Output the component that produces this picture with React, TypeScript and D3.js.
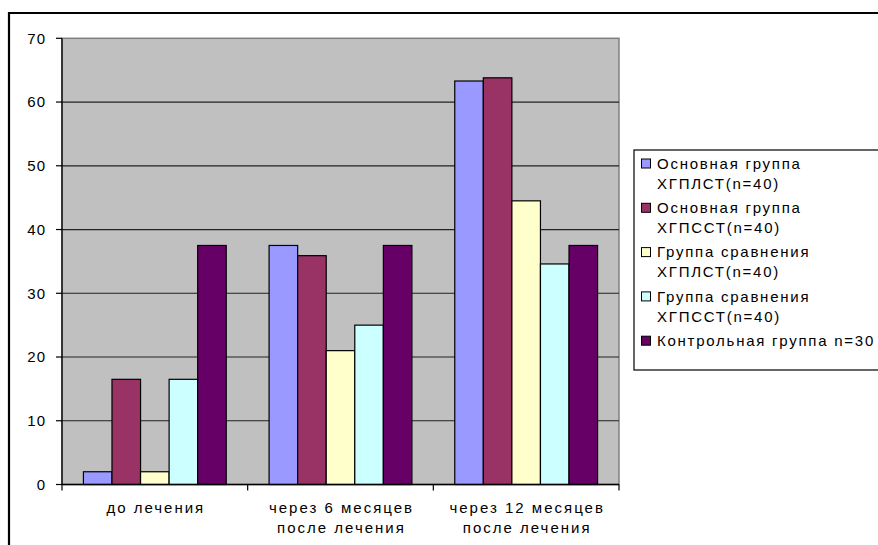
import React from "react";
import * as d3 from "d3";

const categories: string[][] = [
  ["до лечения"],
  ["через 6 месяцев", "после лечения"],
  ["через 12 месяцев", "после лечения"],
];
const seriesNames: string[][] = [
  ["Основная группа", "ХГПЛСТ(n=40)"],
  ["Основная группа", "ХГПССТ(n=40)"],
  ["Группа сравнения", "ХГПЛСТ(n=40)"],
  ["Группа сравнения", "ХГПССТ(n=40)"],
  ["Контрольная группа n=30"],
];
const seriesColors = ["#9999FF", "#993366", "#FFFFCC", "#CCFFFF", "#660066"];
const values: number[][] = [
  [2, 37.5, 63.3],
  [16.5, 35.9, 63.8],
  [2, 21, 44.5],
  [16.5, 25, 34.6],
  [37.5, 37.5, 37.5],
];
const yTicks = [0, 10, 20, 30, 40, 50, 60, 70];

const W = 878;
const H = 545;
const plot = { left: 62, top: 38.3, right: 619, bottom: 484.5 };
const font = "'Liberation Sans', Arial, sans-serif";

export default function App() {
  const y = d3.scaleLinear().domain([0, 70]).range([plot.bottom, plot.top]);
  const x0 = d3
    .scaleBand<number>()
    .domain(categories.map((_, i) => i))
    .range([plot.left, plot.right])
    .paddingInner(0)
    .paddingOuter(0);
  const gw = x0.bandwidth();
  const bw = gw / 6.5;
  const x1 = (s: number) => gw * (0.75 / 6.5) + s * bw;

  const legend = { left: 634, top: 150, bottom: 370, firstY: 163.5, step: 44.3, line: 20 };

  return (
    <svg
      width={W}
      height={H}
      style={{ position: "absolute", left: 0, top: 0, background: "#fff" }}
      fontFamily={font}
    >
      <rect x={0} y={0} width={W} height={H} fill="#fff" />
      {/* outer frame */}
      <path d={`M9,${H + 5} L9,13 L${W + 5},13`} fill="none" stroke="#000" strokeWidth={2.2} />
      {/* plot area */}
      <rect
        x={plot.left}
        y={plot.top}
        width={plot.right - plot.left}
        height={plot.bottom - plot.top}
        fill="#C0C0C0"
        stroke="#808080"
        strokeWidth={1.5}
      />
      {/* gridlines */}
      {yTicks.slice(1, -1).map((t) => (
        <line key={t} x1={plot.left} x2={plot.right} y1={y(t)} y2={y(t)} stroke="#222" strokeWidth={1.2} />
      ))}
      {/* bars */}
      {values.map((vals, s) =>
        vals.map((v, c) => (
          <rect
            key={`${s}-${c}`}
            x={(x0(c) as number) + x1(s)}
            y={y(v)}
            width={bw}
            height={plot.bottom - y(v)}
            fill={seriesColors[s]}
            stroke="#000"
            strokeWidth={1.2}
          />
        ))
      )}
      {/* axes */}
      <line x1={plot.left} x2={plot.left} y1={plot.top} y2={plot.bottom} stroke="#000" strokeWidth={1.3} />
      <line x1={plot.left} x2={plot.right} y1={plot.bottom} y2={plot.bottom} stroke="#000" strokeWidth={1.3} />
      {yTicks.map((t) => (
        <g key={t}>
          <line x1={plot.left - 6} x2={plot.left} y1={y(t)} y2={y(t)} stroke="#000" strokeWidth={1.2} />
          <text x={46} y={y(t)} dy="0.35em" textAnchor="end" fontSize={15} letterSpacing={1} fill="#000">
            {t}
          </text>
        </g>
      ))}
      {[0, 1, 2, 3].map((i) => {
        const xx = plot.left + i * gw;
        return <line key={i} x1={xx} x2={xx} y1={plot.bottom} y2={plot.bottom + 6} stroke="#000" strokeWidth={1.2} />;
      })}
      {categories.map((lines, c) => (
        <text key={c} textAnchor="middle" fontSize={15} letterSpacing={2} fill="#000">
          {lines.map((l, k) => (
            <tspan key={k} x={(x0(c) as number) + gw / 2 + 1} y={508 + k * 20} dy="0.35em">
              {l}
            </tspan>
          ))}
        </text>
      ))}
      {/* legend */}
      <rect
        x={legend.left}
        y={legend.top}
        width={W - legend.left + 10}
        height={legend.bottom - legend.top}
        fill="#fff"
        stroke="#000"
        strokeWidth={1.2}
      />
      {seriesNames.map((lines, s) => {
        const cy = legend.firstY + s * legend.step;
        return (
          <g key={s}>
            <rect x={641.5} y={cy - 4.5} width={9} height={9} fill={seriesColors[s]} stroke="#000" strokeWidth={1} />
            <text fontSize={15} letterSpacing={1.75} fill="#000">
              {lines.map((l, k) => (
                <tspan key={k} x={657} y={cy + k * legend.line} dy="0.35em">
                  {l}
                </tspan>
              ))}
            </text>
          </g>
        );
      })}
    </svg>
  );
}
